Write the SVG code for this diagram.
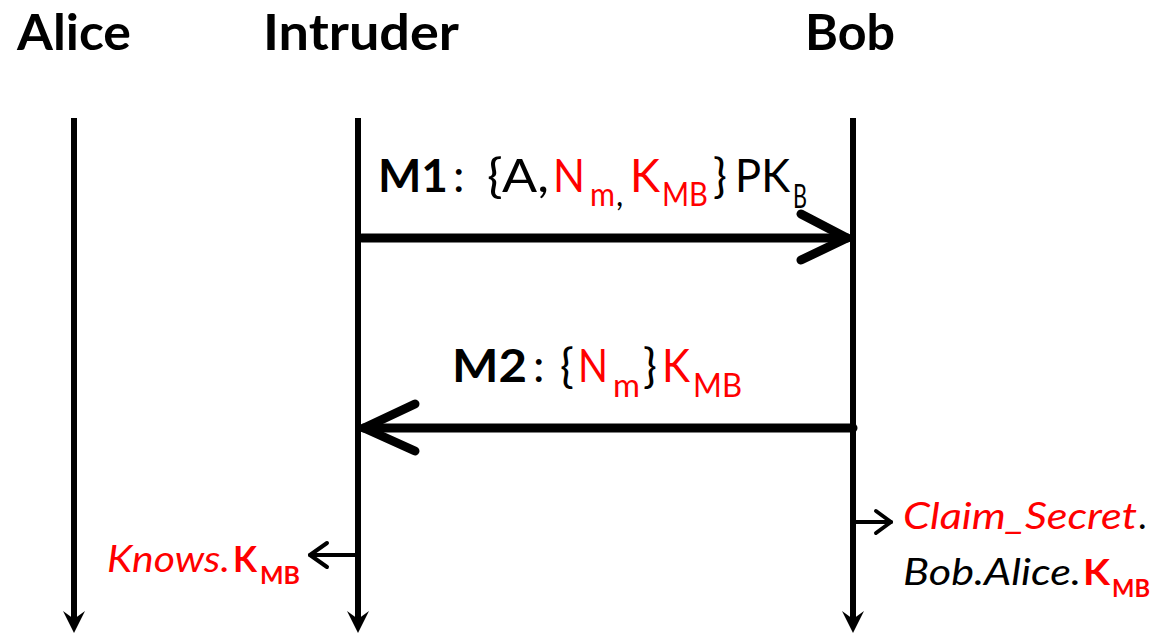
<svg xmlns="http://www.w3.org/2000/svg" width="1155" height="633" viewBox="0 0 1155 633">
  <style>
    text { font-family: Lato, "Open Sans", "Liberation Sans", sans-serif; fill: #000; }
    .hdr { font-size: 49px; font-weight: bold; }
    .msg { font-size: 46px; }
    .sub { font-size: 32px; }
    .note { font-size: 37px; font-style: italic; }
    .nsub { font-size: 24px; font-weight: bold; }
    .b { font-weight: bold; }
    .red { fill: #ff0000; }
    .life { stroke: #000; stroke-width: 6; fill: none; }
    .msgline { stroke: #000; stroke-width: 9; fill: none; stroke-linecap: round; stroke-linejoin: round; }
    .act { stroke: #000; stroke-width: 4; fill: none; stroke-linecap: round; stroke-linejoin: round; }
  </style>
  <defs>
    <path id="head-down" d="M -11 611 L 0 633 L 11 611 L 0 619 Z" fill="#000"/>
  </defs>
  <rect width="1155" height="633" fill="#fff"/>

  <!-- participants with their lifelines -->
  <g id="alice">
    <text class="hdr" x="17" y="50" textLength="114" lengthAdjust="spacingAndGlyphs">Alice</text>
    <line class="life" x1="74" y1="118" x2="74" y2="622"/>
    <use href="#head-down" x="74"/>
  </g>
  <g id="intruder">
    <text class="hdr" x="263" y="50" textLength="196" lengthAdjust="spacingAndGlyphs">Intruder</text>
    <line class="life" x1="358" y1="118" x2="358" y2="622"/>
    <use href="#head-down" x="358"/>
  </g>
  <g id="bob">
    <text class="hdr" x="805" y="50" textLength="90" lengthAdjust="spacingAndGlyphs">Bob</text>
    <line class="life" x1="853" y1="118" x2="853" y2="622"/>
    <use href="#head-down" x="853"/>
  </g>

  <!-- message arrows -->
  <g id="connectors">
    <g id="m1-arrow">
      <line class="msgline" x1="362" y1="238" x2="847" y2="238"/>
      <polyline class="msgline" points="801,214 847,238 801,260"/>
    </g>
    <g id="m2-arrow">
      <line class="msgline" x1="853" y1="428" x2="364" y2="428"/>
      <polyline class="msgline" points="415,404 364,428 415,451"/>
    </g>
    <g id="knows-arrow">
      <line class="act" x1="358" y1="555" x2="310" y2="555"/>
      <polyline class="act" points="327,543 310,555 327,567"/>
    </g>
    <g id="claim-arrow">
      <line class="act" x1="853" y1="522" x2="891" y2="522"/>
      <polyline class="act" points="876,511 891,522 876,533"/>
    </g>
  </g>

  <!-- message labels -->
  <g id="m1-label">
    <text class="msg b" x="378" y="192" textLength="70" lengthAdjust="spacingAndGlyphs">M1</text>
    <text class="msg" x="453" y="192">:</text>
    <text class="msg" x="487" y="192" textLength="62" lengthAdjust="spacingAndGlyphs">{A,</text>
    <text class="msg red" x="553" y="192" textLength="32" lengthAdjust="spacingAndGlyphs">N</text>
    <text class="sub red" x="590" y="206" textLength="25" lengthAdjust="spacingAndGlyphs">m</text>
    <text class="sub" x="616" y="206">,</text>
    <text class="msg red" x="630" y="192" textLength="30" lengthAdjust="spacingAndGlyphs">K</text>
    <text class="sub red" x="662" y="206" textLength="46" lengthAdjust="spacingAndGlyphs">MB</text>
    <text class="msg" x="713" y="192">}</text>
    <text class="msg" x="735" y="192" textLength="55" lengthAdjust="spacingAndGlyphs">PK</text>
    <text class="sub" x="793" y="208" textLength="14" lengthAdjust="spacingAndGlyphs">B</text>
  </g>
  <g id="m2-label">
    <text class="msg b" x="452" y="382" textLength="75" lengthAdjust="spacingAndGlyphs">M2</text>
    <text class="msg" x="533" y="382">:</text>
    <text class="msg" x="560" y="382">{</text>
    <text class="msg red" x="578" y="382" textLength="30" lengthAdjust="spacingAndGlyphs">N</text>
    <text class="sub red" x="613" y="397" textLength="27" lengthAdjust="spacingAndGlyphs">m</text>
    <text class="msg" x="643" y="382">}</text>
    <text class="msg red" x="662" y="382" textLength="28" lengthAdjust="spacingAndGlyphs">K</text>
    <text class="sub red" x="693" y="397" textLength="49" lengthAdjust="spacingAndGlyphs">MB</text>
  </g>

  <!-- intruder knowledge -->
  <g id="knows-note">
    <text class="note red" x="107" y="572" textLength="123" lengthAdjust="spacingAndGlyphs">Knows.</text>
    <text class="note red b" x="233" y="572" style="font-style:normal" textLength="24" lengthAdjust="spacingAndGlyphs">K</text>
    <text class="nsub red" x="260" y="584" textLength="40" lengthAdjust="spacingAndGlyphs">MB</text>
  </g>

  <!-- secrecy claim at Bob -->
  <g id="claim-note">
    <text class="note red" x="903" y="529" textLength="234" lengthAdjust="spacingAndGlyphs">Claim_Secret</text>
    <text class="note" x="1139" y="529">.</text>
    <text class="note" x="903" y="585" textLength="178" lengthAdjust="spacingAndGlyphs">Bob.Alice.</text>
    <text class="note red b" x="1083" y="585" style="font-style:normal" textLength="27" lengthAdjust="spacingAndGlyphs">K</text>
    <text class="nsub red" x="1112" y="597" textLength="38" lengthAdjust="spacingAndGlyphs">MB</text>
  </g>
</svg>
